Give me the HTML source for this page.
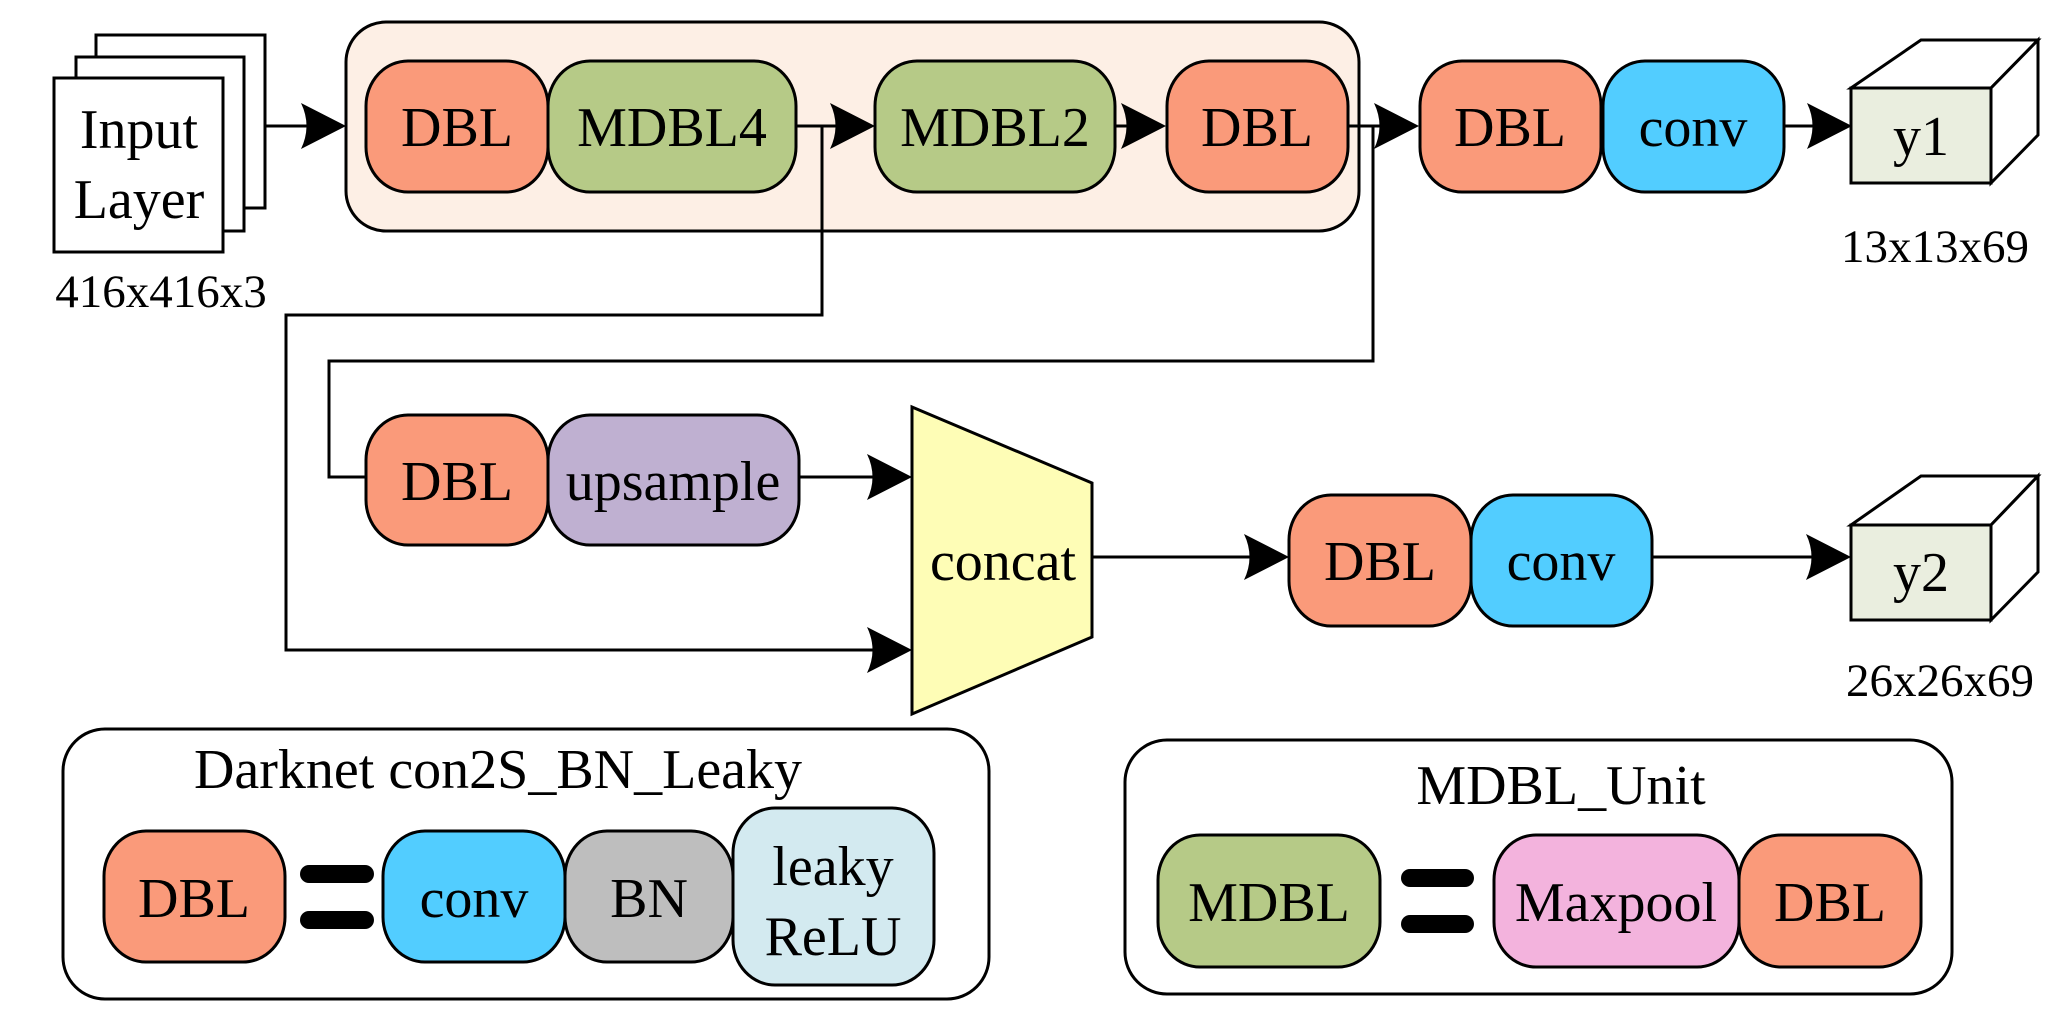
<!DOCTYPE html>
<html><head><meta charset="utf-8"><style>
html,body{margin:0;padding:0;background:#fff}
svg{display:block}
text{font-family:"Liberation Serif",serif;fill:#000}
</style></head><body>
<svg width="2066" height="1024" viewBox="0 0 2066 1024" xmlns="http://www.w3.org/2000/svg">
<defs>
<path id="ah" d="M0,0 L-45,-23 Q-34,0 -45,23 Z" fill="#000"/>
</defs>
<g stroke="#000" stroke-width="3" fill="none">
<rect x="96" y="35" width="169" height="173" fill="#fff"/>
<rect x="76" y="57" width="168" height="174" fill="#fff"/>
<rect x="54" y="78" width="169" height="174" fill="#fff"/>
<rect x="346" y="22" width="1013" height="209" rx="40" ry="40" fill="#fdefe5"/>
<line x1="265" y1="126" x2="340" y2="126"/>
<line x1="796" y1="126" x2="870" y2="126"/>
<line x1="1115" y1="126" x2="1160" y2="126"/>
<line x1="1348" y1="126" x2="1412" y2="126"/>
<line x1="1784" y1="126" x2="1846" y2="126"/>
<polyline points="822,126 822,315 286,315 286,650 905,650"/>
<polyline points="1373,126 1373,361 329,361 329,477 366,477"/>
<line x1="799" y1="477" x2="905" y2="477"/>
<line x1="1092" y1="557" x2="1284" y2="557"/>
<line x1="1652" y1="557" x2="1846" y2="557"/>
<rect x="366" y="61" width="182" height="131" rx="42" ry="45" fill="#fa9a7a"/>
<rect x="548" y="61" width="248" height="131" rx="42" ry="45" fill="#b6ca87"/>
<rect x="875" y="61" width="240" height="131" rx="42" ry="45" fill="#b6ca87"/>
<rect x="1167" y="61" width="181" height="131" rx="42" ry="45" fill="#fa9a7a"/>
<rect x="1420" y="61" width="181" height="131" rx="42" ry="45" fill="#fa9a7a"/>
<rect x="1603" y="61" width="181" height="131" rx="42" ry="45" fill="#52cdff"/>
<polygon points="1851,88 1921,40 2038,40 1991,88" fill="#fff"/>
<polygon points="1991,88 2038,40 2038,135 1991,183" fill="#fff"/>
<rect x="1851" y="88" width="140" height="95" fill="#eaeedf"/>
<rect x="366" y="415" width="182" height="130" rx="42" ry="45" fill="#fa9a7a"/>
<rect x="548" y="415" width="251" height="130" rx="42" ry="45" fill="#bfb0d1"/>
<polygon points="912,407 1092,483 1092,637 912,714" fill="#fefdb6"/>
<rect x="1289" y="495" width="182" height="131" rx="42" ry="45" fill="#fa9a7a"/>
<rect x="1471" y="495" width="181" height="131" rx="42" ry="45" fill="#52cdff"/>
<polygon points="1851,525 1921,476 2038,476 1991,525" fill="#fff"/>
<polygon points="1991,525 2038,476 2038,572 1991,620" fill="#fff"/>
<rect x="1851" y="525" width="140" height="95" fill="#eaeedf"/>
<rect x="63" y="729" width="926" height="270" rx="42" ry="42" fill="#fff"/>
<rect x="104" y="831" width="181" height="131" rx="42" ry="45" fill="#fa9a7a"/>
<rect x="383" y="831" width="182" height="131" rx="42" ry="45" fill="#52cdff"/>
<rect x="565" y="831" width="168" height="131" rx="42" ry="45" fill="#bebebe"/>
<rect x="733" y="808" width="201" height="177" rx="42" ry="45" fill="#d3eaf0"/>
<rect x="1125" y="740" width="827" height="254" rx="42" ry="42" fill="#fff"/>
<rect x="1158" y="835" width="222" height="132" rx="42" ry="45" fill="#b6ca87"/>
<rect x="1494" y="835" width="245" height="132" rx="42" ry="45" fill="#f3b3dd"/>
<rect x="1739" y="835" width="182" height="132" rx="42" ry="45" fill="#fa9a7a"/>
</g>
<g fill="#000">
<rect x="300" y="865" width="74" height="18" rx="9"/>
<rect x="300" y="911" width="74" height="18" rx="9"/>
<rect x="1401" y="869" width="73" height="18" rx="9"/>
<rect x="1401" y="915" width="73" height="18" rx="9"/>
</g>
<use href="#ah" x="346" y="126"/>
<use href="#ah" x="875" y="126"/>
<use href="#ah" x="1166" y="126"/>
<use href="#ah" x="1419" y="126"/>
<use href="#ah" x="1852" y="126"/>
<use href="#ah" x="912" y="477"/>
<use href="#ah" x="912" y="650"/>
<use href="#ah" x="1289" y="557"/>
<use href="#ah" x="1851" y="557"/>
<g font-size="56" text-anchor="middle">
<text x="139" y="148">Input</text>
<text x="139" y="218">Layer</text>
<text x="457" y="146">DBL</text>
<text x="672" y="146">MDBL4</text>
<text x="995" y="146">MDBL2</text>
<text x="1257" y="146">DBL</text>
<text x="1510" y="146">DBL</text>
<text x="1693" y="146">conv</text>
<text x="1921" y="155">y1</text>
<text x="457" y="500">DBL</text>
<text x="673" y="500">upsample</text>
<text x="1003" y="580">concat</text>
<text x="1380" y="580">DBL</text>
<text x="1561" y="580">conv</text>
<text x="1921" y="591">y2</text>
<text x="498" y="788">Darknet con2S_BN_Leaky</text>
<text x="194" y="917">DBL</text>
<text x="474" y="917">conv</text>
<text x="649" y="917">BN</text>
<text x="833" y="885">leaky</text>
<text x="833" y="955">ReLU</text>
<text x="1561" y="804">MDBL_Unit</text>
<text x="1269" y="921">MDBL</text>
<text x="1616" y="921">Maxpool</text>
<text x="1830" y="921">DBL</text>
</g>
<g font-size="47" text-anchor="middle">
<text x="161" y="307">416x416x3</text>
<text x="1935" y="262">13x13x69</text>
<text x="1940" y="696">26x26x69</text>
</g>
</svg>
</body></html>
